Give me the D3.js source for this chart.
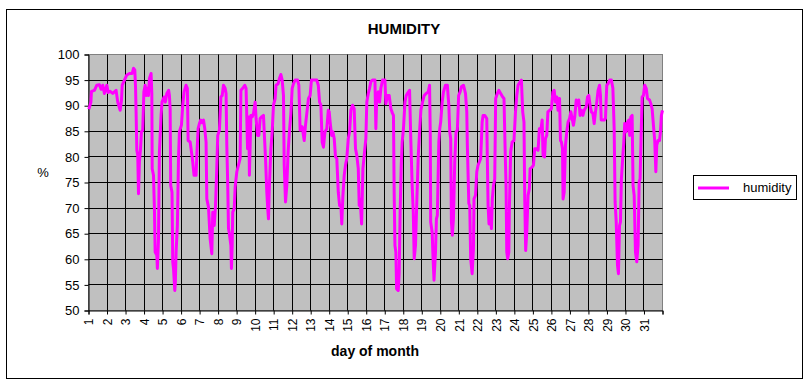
<!DOCTYPE html>
<html>
<head>
<meta charset="utf-8">
<script src="https://cdn.jsdelivr.net/npm/d3@7"></script>
<style>
  body { margin: 0; background: #fff; }
  svg { display: block; font-family: "Liberation Sans", Arial, sans-serif; }
</style>
</head>
<body>
<div id="viz"></div>
<script>
'use strict';

// days on the x axis (one gridline per day, last one closes day 31)
const dayTicks = d3.range(1, 33);
const humidityTicks = [50, 55, 60, 65, 70, 75, 80, 85, 90, 95, 100];

// readings: position in the month (day + fraction) and relative humidity %
const dayPos = [
  1.02, 1.13, 1.16, 1.32, 1.45, 1.59, 1.68, 1.77, 1.86, 1.99,
  2.06, 2.17, 2.31, 2.49, 2.58, 2.71, 2.78, 2.82, 2.94, 3.07,
  3.21, 3.36, 3.43, 3.50, 3.54, 3.57, 3.61, 3.66, 3.70, 3.75,
  3.81, 3.86, 3.93, 3.99, 4.06, 4.11, 4.17, 4.24, 4.29, 4.38,
  4.42, 4.44, 4.51, 4.56, 4.60, 4.69, 4.72, 4.78, 4.83, 4.92,
  4.97, 5.08, 5.15, 5.23, 5.33, 5.37, 5.41, 5.44, 5.51, 5.55,
  5.59, 5.66, 5.69, 5.73, 5.80, 5.86, 5.91, 6.02, 6.09, 6.16,
  6.27, 6.34, 6.38, 6.49, 6.56, 6.63, 6.70, 6.81, 6.86, 6.92,
  6.99, 7.06, 7.13, 7.21, 7.28, 7.35, 7.39, 7.48, 7.57, 7.66,
  7.71, 7.79, 7.86, 7.93, 7.98, 8.07, 8.15, 8.22, 8.29, 8.38,
  8.43, 8.47, 8.52, 8.56, 8.61, 8.69, 8.72, 8.76, 8.79, 8.87,
  8.92, 9.01, 9.10, 9.19, 9.23, 9.33, 9.44, 9.51, 9.59, 9.66,
  9.69, 9.77, 9.84, 9.91, 10.00, 10.05, 10.13, 10.20, 10.27, 10.34,
  10.45, 10.50, 10.56, 10.63, 10.68, 10.72, 10.77, 10.85, 10.92, 10.99,
  11.08, 11.13, 11.24, 11.31, 11.39, 11.46, 11.53, 11.57, 11.64, 11.71,
  11.78, 11.85, 11.93, 12.00, 12.07, 12.16, 12.29, 12.36, 12.43, 12.54,
  12.65, 12.72, 12.79, 12.88, 12.97, 13.04, 13.24, 13.33, 13.41, 13.48,
  13.55, 13.62, 13.69, 13.77, 13.87, 13.95, 14.00, 14.05, 14.13, 14.20,
  14.27, 14.34, 14.41, 14.49, 14.56, 14.63, 14.68, 14.74, 14.81, 14.88,
  14.95, 15.03, 15.10, 15.17, 15.26, 15.35, 15.42, 15.49, 15.57, 15.62,
  15.67, 15.75, 15.82, 15.89, 15.98, 16.03, 16.11, 16.18, 16.25, 16.34,
  16.47, 16.52, 16.57, 16.65, 16.72, 16.79, 16.88, 17.01, 17.06, 17.15,
  17.24, 17.33, 17.42, 17.47, 17.51, 17.55, 17.60, 17.64, 17.73, 17.78,
  17.83, 17.89, 17.94, 18.01, 18.09, 18.16, 18.23, 18.34, 18.41, 18.48,
  18.54, 18.59, 18.66, 18.73, 18.81, 18.88, 18.95, 19.04, 19.13, 19.24,
  19.35, 19.42, 19.46, 19.48, 19.56, 19.61, 19.66, 19.74, 19.79, 19.84,
  19.92, 19.97, 20.02, 20.10, 20.17, 20.28, 20.38, 20.46, 20.51, 20.56,
  20.60, 20.65, 20.71, 20.78, 20.85, 20.92, 20.99, 21.07, 21.14, 21.25,
  21.36, 21.43, 21.46, 21.54, 21.59, 21.64, 21.72, 21.79, 21.82, 21.90,
  21.97, 22.04, 22.11, 22.18, 22.26, 22.31, 22.40, 22.51, 22.54, 22.58,
  22.63, 22.69, 22.76, 22.81, 22.87, 22.94, 22.99, 23.08, 23.16, 23.26,
  23.37, 23.44, 23.50, 23.55, 23.59, 23.64, 23.70, 23.73, 23.80, 23.88,
  23.98, 24.06, 24.13, 24.20, 24.31, 24.38, 24.45, 24.52, 24.56, 24.61,
  24.67, 24.74, 24.81, 24.85, 24.96, 25.03, 25.10, 25.21, 25.28, 25.35,
  25.42, 25.50, 25.55, 25.63, 25.68, 25.75, 25.81, 25.90, 26.00, 26.08,
  26.15, 26.22, 26.29, 26.36, 26.44, 26.49, 26.54, 26.60, 26.63, 26.69,
  26.76, 26.83, 26.90, 26.98, 27.05, 27.12, 27.19, 27.26, 27.34, 27.41,
  27.48, 27.55, 27.62, 27.70, 27.77, 27.88, 27.95, 28.02, 28.09, 28.16,
  28.24, 28.31, 28.38, 28.45, 28.52, 28.60, 28.65, 28.69, 28.78, 28.85,
  28.92, 28.99, 29.06, 29.15, 29.24, 29.32, 29.39, 29.44, 29.50, 29.57,
  29.62, 29.68, 29.73, 29.78, 29.86, 29.91, 29.96, 30.04, 30.11, 30.18,
  30.23, 30.29, 30.36, 30.41, 30.47, 30.54, 30.61, 30.68, 30.74, 30.79,
  30.85, 30.90, 30.97, 31.04, 31.12, 31.19, 31.30, 31.37, 31.44, 31.51,
  31.58, 31.64, 31.69, 31.76, 31.84, 31.89, 31.94, 32.00
];

const humidity = [
  89.3, 90.7, 92.8, 93, 94, 94.1, 93.2, 94, 92.4, 94,
  92.6, 92.8, 92.4, 93, 90.7, 89.1, 91, 94, 95, 96,
  96.3, 96.3, 97.3, 97, 93.7, 88.8, 81.3, 80.3, 72.8, 79,
  81.6, 84.9, 85.2, 92.7, 94, 92, 93.4, 92, 95.3, 96.3,
  92.4, 77.7, 76.4, 69.9, 61.4, 60.8, 58.2, 64, 81, 88.1,
  90.7, 91.7, 90.7, 92.4, 93, 92, 89.4, 74.4, 73.1, 59.5,
  58.2, 53.9, 55.5, 61.4, 66.6, 79.7, 84.9, 86.2, 90.1, 92.7,
  94, 93.4, 83.2, 82.9, 81, 79, 76.4, 76.4, 81, 85.5,
  86.5, 87.2, 86.7, 87.2, 85.5, 82.9, 71.8, 70.2, 64, 61.1,
  69.2, 66.6, 70.5, 78, 84.2, 85.2, 91.7, 92, 94, 93.4,
  92.4, 82.3, 74.4, 66, 65, 62.7, 58.2, 62.7, 69.2, 69.9,
  74.1, 77.1, 78.4, 79.7, 93, 93.4, 94, 93.4, 81.6, 87.8,
  76.4, 88.1, 87.8, 88.5, 90.7, 87.5, 84.2, 84.2, 87.5, 87.8,
  88.1, 84.2, 79.7, 73.1, 69.9, 67.9, 74.4, 81.6, 84.9, 90.1,
  91.4, 94, 94.3, 95.3, 96.1, 95, 92, 78.4, 71.2, 74.4,
  81, 84.9, 88.5, 93.4, 94.3, 95, 95, 94, 85.2, 85.9,
  83.2, 86.2, 88.5, 91.4, 92, 95, 95, 95, 94, 90.7,
  90.1, 82.9, 81.9, 84.9, 85.5, 89.1, 88.8, 86.8, 84.2, 84.9,
  83.6, 80, 79.7, 73.1, 70.5, 70.5, 66.9, 72.5, 76.4, 78.4,
  79.7, 83.6, 84.9, 89.1, 90.1, 89.4, 81.6, 80.3, 77.7, 70.5,
  71.8, 66.9, 77.7, 80.3, 83.6, 90.7, 92.4, 93.4, 94.7, 95,
  95, 85.5, 92, 92.7, 90.7, 93.4, 95, 95, 90.4, 92,
  92, 89.4, 88.5, 88.1, 72.5, 62.7, 61.4, 54.2, 53.9, 57.4,
  69.2, 78.4, 82.9, 85.5, 90.7, 92, 92.4, 93, 82.9, 74.4,
  69.2, 60.1, 62.7, 71.2, 80.3, 84.9, 89.1, 90.7, 92, 92.4,
  92.7, 94, 84, 67.3, 65.3, 60.1, 55.9, 61.4, 67.9, 68.6,
  82.9, 85.5, 86.8, 90.7, 92.7, 94, 94, 90.1, 84.9, 83.6,
  67.3, 64.7, 67.9, 79, 84.9, 85.2, 92, 92.7, 93.7, 94,
  92.4, 88.8, 82.3, 70.9, 70.5, 60.1, 57.2, 62.1, 71.8, 72.5,
  77.1, 78.4, 79, 79.7, 86.8, 88.1, 88.1, 87.5, 79.7, 70.5,
  66.9, 69.9, 66, 71.8, 74.4, 75.7, 91.4, 92.4, 93, 92.4,
  91.7, 91.4, 81.6, 74.4, 61.4, 60.1, 61.4, 69.9, 81, 82.9,
  83.2, 88.8, 92, 94, 94.7, 95, 88.8, 86.8, 71.8, 61.7,
  65.3, 72.5, 73.8, 77.7, 78, 78.4, 81.6, 81.6, 81.3, 85.5,
  84.9, 87.2, 80.3, 80, 83.6, 84.2, 88.8, 89.1, 89.4, 92.7,
  93, 90.7, 91.7, 89.1, 91.4, 83.2, 82.9, 81.6, 71.8, 73.1,
  82.3, 84.9, 86.8, 87.5, 88.8, 87.5, 86.2, 87.8, 91.1, 90.1,
  91.1, 88.1, 89.1, 88.1, 89.1, 89.8, 91.7, 92, 90.1, 88.8,
  88.5, 86.5, 88.8, 90.7, 93, 94, 92, 87.2, 87.2, 87.2,
  87.5, 94, 94.3, 95, 95, 93.4, 85.5, 71.2, 67.3, 58.8,
  57.2, 66.6, 67.3, 75.7, 80.3, 82.9, 86.5, 84.9, 86.8, 87.2,
  84.2, 87.8, 88.1, 74.4, 72.5, 61.4, 59.5, 62.7, 75.1, 75.7,
  84.9, 91.7, 92, 94, 93.4, 91.4, 91.1, 90.4, 89.4, 86.2,
  83.2, 77.1, 82.3, 83.2, 83.2, 84.9, 88.1, 89.1
];

const seriesName = 'humidity';

function drawChart() {
  const W = 809, H = 384;
  const plot = {left: 88.5, right: 662.5, top: 54.5, bottom: 310.5};

  const data = dayPos.map((d, i) => ({day: d, value: humidity[i]}));

  const svg = d3.select('#viz')
    .append('svg')
      .attr('width', W)
      .attr('height', H);

  // outer chart border
  svg.append('rect')
    .attr('x', 6.5).attr('y', 9.5)
    .attr('width', 796).attr('height', 369)
    .attr('fill', '#fff')
    .attr('stroke', '#000');

  const x = d3.scaleLinear()
    .domain([1, 32])
    .range([plot.left, plot.right]);

  const y = d3.scaleLinear()
    .domain([50, 100])
    .range([plot.bottom, plot.top]);

  const crisp = v => Math.round(v - 0.5) + 0.5;

  // grey plot area
  svg.append('rect')
    .attr('x', plot.left).attr('y', plot.top)
    .attr('width', plot.right - plot.left)
    .attr('height', plot.bottom - plot.top)
    .attr('fill', '#c0c0c0')
    .attr('stroke', '#808080');

  // gridlines
  svg.append('g')
    .selectAll('line')
    .data(humidityTicks.slice(1, -1))
    .join('line')
      .attr('x1', plot.left).attr('x2', plot.right)
      .attr('y1', d => crisp(y(d))).attr('y2', d => crisp(y(d)))
      .attr('stroke', '#000');

  svg.append('g')
    .selectAll('line')
    .data(dayTicks.slice(1, -1))
    .join('line')
      .attr('x1', d => crisp(x(d))).attr('x2', d => crisp(x(d)))
      .attr('y1', plot.top).attr('y2', plot.bottom)
      .attr('stroke', '#000');

  // Y axis
  const yAxis = svg.append('g')
    .attr('transform', `translate(${plot.left},0)`)
    .call(d3.axisLeft(y).tickValues(humidityTicks).tickSize(4).tickPadding(5));

  yAxis.selectAll('text')
    .attr('font-size', 13)
    .attr('font-family', '"Liberation Sans", Arial, sans-serif')
    .attr('fill', '#000');

  // X axis, rotated day labels
  const xAxis = svg.append('g')
    .attr('transform', `translate(0,${plot.bottom})`)
    .call(d3.axisBottom(x)
      .tickValues(dayTicks)
      .tickSize(4)
      .tickFormat(d => d <= 31 ? d : ''));

  xAxis.selectAll('text')
    .attr('font-size', 12)
    .attr('font-family', '"Liberation Sans", Arial, sans-serif')
    .attr('fill', '#000')
    .attr('transform', 'rotate(-90)')
    .attr('text-anchor', 'end')
    .attr('x', -8)
    .attr('y', 0)
    .attr('dy', '0.35em');

  svg.selectAll('.domain, .tick line').attr('stroke', '#000');

  // the humidity line
  svg.append('path')
    .datum(data)
    .attr('fill', 'none')
    .attr('stroke', '#ff00ff')
    .attr('stroke-width', 3)
    .attr('stroke-linejoin', 'round')
    .attr('d', d3.line()
      .x(d => x(d.day))
      .y(d => y(d.value))
    );

  // titles
  svg.append('text')
    .attr('x', 404).attr('y', 34)
    .attr('text-anchor', 'middle')
    .attr('font-size', 15)
    .attr('font-weight', 'bold')
    .text('HUMIDITY');

  svg.append('text')
    .attr('x', 375).attr('y', 356)
    .attr('text-anchor', 'middle')
    .attr('font-size', 14)
    .attr('font-weight', 'bold')
    .text('day of month');

  svg.append('text')
    .attr('x', 43).attr('y', 177)
    .attr('text-anchor', 'middle')
    .attr('font-size', 13)
    .text('%');

  // legend
  const legend = svg.append('g');

  legend.append('rect')
    .attr('x', 693.5).attr('y', 175.5)
    .attr('width', 103).attr('height', 24)
    .attr('fill', '#fff')
    .attr('stroke', '#000');

  legend.append('line')
    .attr('x1', 698).attr('x2', 729)
    .attr('y1', 188).attr('y2', 188)
    .attr('stroke', '#ff00ff')
    .attr('stroke-width', 3);

  legend.append('text')
    .attr('x', 743).attr('y', 192)
    .attr('font-size', 13)
    .text(seriesName);
}

drawChart();
</script>
</body>
</html>
